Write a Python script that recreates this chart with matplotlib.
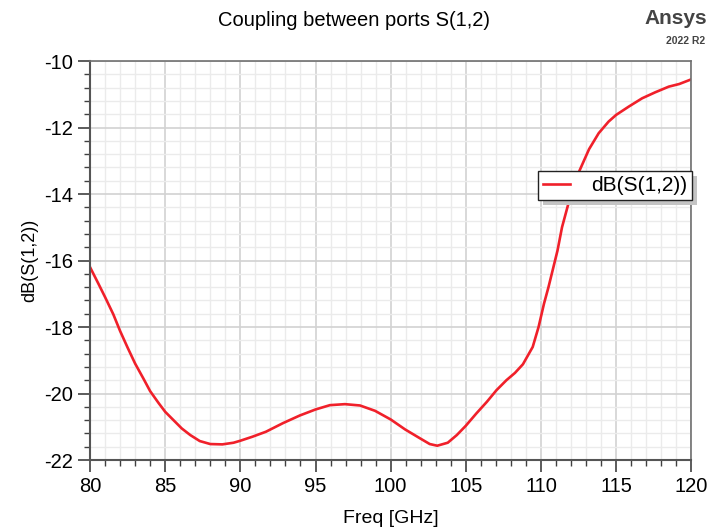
import numpy as np
import matplotlib
matplotlib.use('Agg')
import matplotlib.pyplot as plt
from matplotlib.ticker import MultipleLocator
import matplotlib.patheffects as pe

plt.rcParams['font.family'] = ['Liberation Sans', 'DejaVu Sans']
plt.rcParams['axes.unicode_minus'] = False

# S(1,2) in dB vs frequency (GHz)
freq = [80.0, 80.56, 81.0, 81.55, 82.0, 82.5, 83.0, 83.55, 84.0, 84.55, 85.0,
        85.55, 86.1, 86.67, 87.3, 88.0, 88.8, 89.55, 90.0, 90.8, 91.7, 92.84,
        93.96, 95.0, 95.96, 96.96, 97.96, 98.96, 100.0, 100.96, 101.96, 102.6,
        103.1, 103.8, 104.4, 105.0, 105.7, 106.4, 107.04, 107.7, 108.27, 108.8,
        109.45, 109.84, 110.2, 110.5, 110.8, 111.1, 111.4, 111.8, 112.2, 112.56,
        113.2, 113.84, 114.5, 115.0, 115.84, 116.73, 117.6, 118.5, 119.2, 120.0]
s12_db = [-16.2, -16.7, -17.1, -17.62, -18.12, -18.62, -19.1, -19.55, -19.93,
          -20.28, -20.55, -20.8, -21.05, -21.25, -21.43, -21.52, -21.53, -21.48,
          -21.42, -21.3, -21.15, -20.89, -20.66, -20.48, -20.35, -20.32, -20.36,
          -20.52, -20.78, -21.08, -21.35, -21.52, -21.57, -21.48, -21.25, -20.97,
          -20.6, -20.25, -19.9, -19.6, -19.38, -19.12, -18.6, -18.0, -17.3,
          -16.8, -16.25, -15.7, -15.0, -14.33, -13.78, -13.3, -12.65, -12.17,
          -11.82, -11.62, -11.37, -11.12, -10.94, -10.77, -10.69, -10.55]

fig = plt.figure(figsize=(7.09, 5.31), dpi=100)
ax = fig.add_axes([0.127, 0.1337, 0.848, 0.7513])

ax.plot(freq, s12_db, color='#f0202a', lw=1.9, label='dB(S(1,2))',
        solid_joinstyle='round')

ax.set_xlim(80, 120)
ax.set_ylim(-22, -10)
ax.xaxis.set_major_locator(MultipleLocator(5))
ax.xaxis.set_minor_locator(MultipleLocator(1))
ax.yaxis.set_major_locator(MultipleLocator(2))
ax.yaxis.set_minor_locator(MultipleLocator(0.4))

ax.grid(which='major', color='#d2d2d2', lw=1.2)
ax.grid(which='minor', color='#ebebeb', lw=1.0)
ax.set_axisbelow(True)

ax.tick_params(which='major', direction='out', length=8.5, width=1.2,
               labelsize=14.5, color='#404040', pad=4)
ax.tick_params(which='minor', direction='out', length=4.5, width=1.0,
               color='#404040')
for s in ['left', 'bottom']:
    ax.spines[s].set_color('#555555')
    ax.spines[s].set_linewidth(1.5)
for s in ['top', 'right']:
    ax.spines[s].set_color('#707070')
    ax.spines[s].set_linewidth(1.2)

ax.set_xlabel('Freq [GHz]', fontsize=14, labelpad=10)
ax.set_ylabel('dB(S(1,2))', fontsize=13, labelpad=4)

fig.text(0.5, 0.962, 'Coupling between ports S(1,2)', ha='center',
         va='center', fontsize=14.5)
fig.text(0.997, 0.966, 'Ansys', ha='right', va='center', fontsize=15,
         fontweight='bold', color='#444444')
fig.text(0.995, 0.922, '2022 R2', ha='right', va='center', fontsize=7.5,
         fontweight='bold', color='#444444')

leg = ax.legend(loc='upper left', bbox_to_anchor=(0.745, 0.725), fontsize=15,
                frameon=True, fancybox=False, shadow=False, borderpad=0.25,
                handlelength=1.3, handletextpad=1.0, borderaxespad=0)
frame = leg.get_frame()
frame.set_edgecolor('#222222')
frame.set_linewidth(1.0)
frame.set_alpha(1)
frame.set_path_effects([pe.SimplePatchShadow(offset=(3.5, -3.5), shadow_rgbFace='#c4c4c4', alpha=1),
                        pe.Normal()])

fig.savefig('out.png', dpi=100)
